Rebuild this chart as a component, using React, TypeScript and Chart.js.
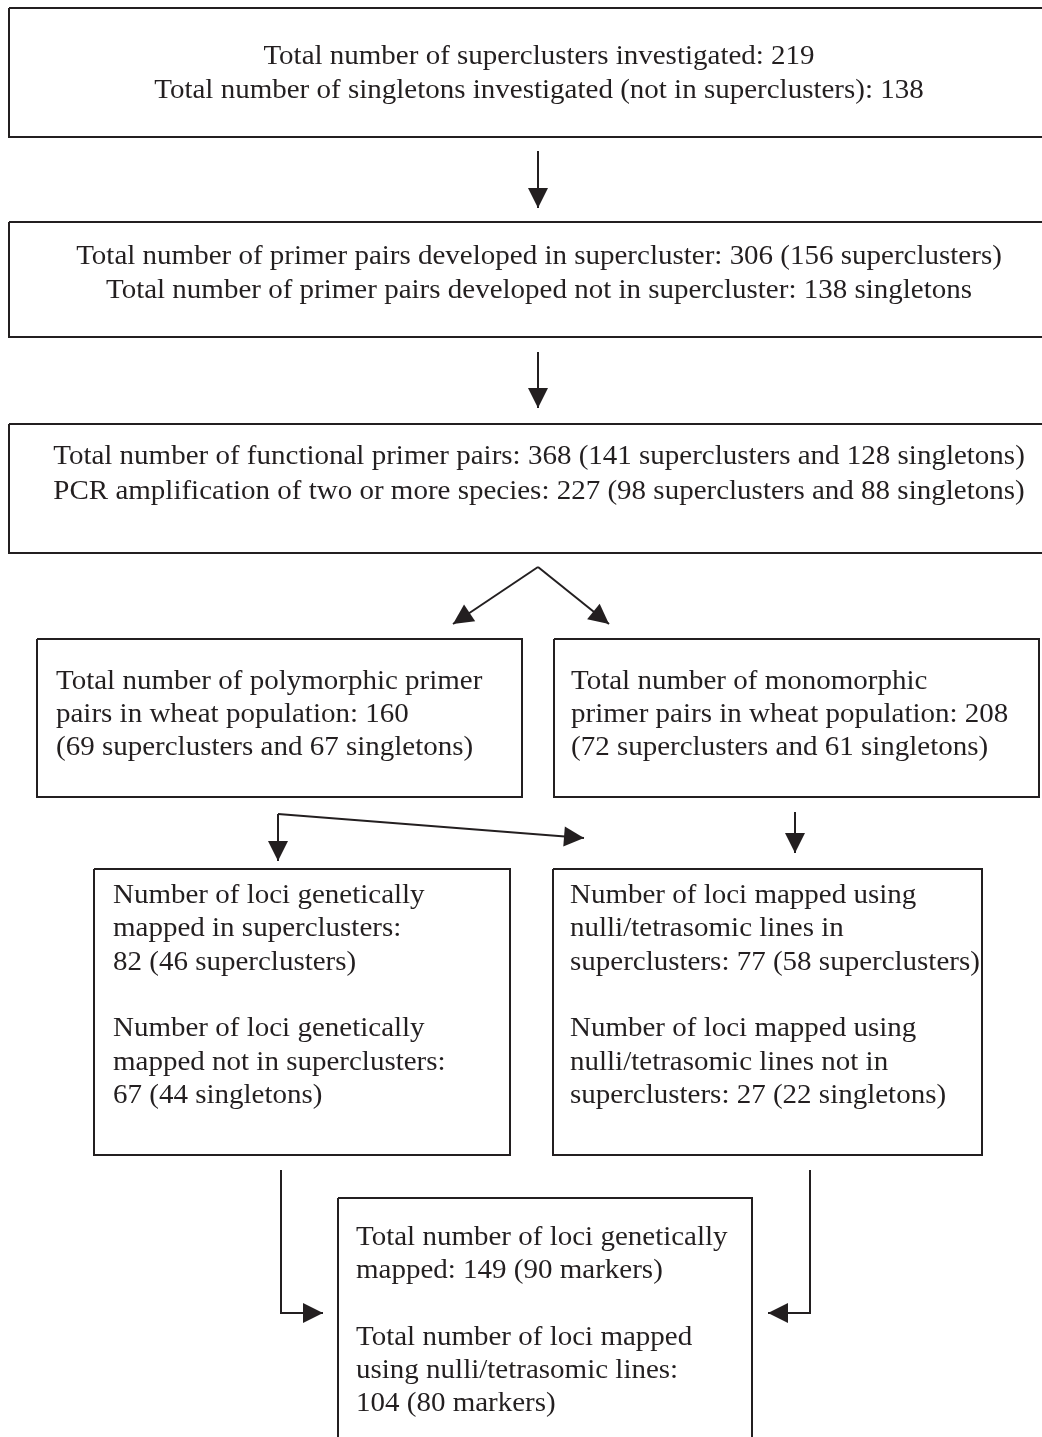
import React, { useEffect, useRef } from "react";
import { Chart, registerables } from "chart.js";

Chart.register(...registerables);

// ---- Flowchart data (page coordinates in the 1042 x 1437 frame) ----
const boxLeft = [9, 9, 9, 37, 554, 94, 553, 338];
const boxTop = [8, 222, 424, 639, 639, 869, 869, 1198];
const boxRight = [1046, 1046, 1046, 522, 1039, 510, 982, 752];
const boxBottom = [137, 337, 553, 797, 797, 1155, 1155, 1447];

const boxAlign = ["center", "center", "center", "left", "left", "left", "left", "left"];
const textX = [539, 539, 539, 56, 571, 113, 570, 356];
const textFirstY = [57, 257, 457, 682, 682, 896, 896, 1238];
const textGap = [34, 34, 35, 33, 33, 33.3, 33.3, 33.2];

const boxLines: (string | null)[][] = [
  [
    "Total number of superclusters investigated: 219",
    "Total number of singletons investigated (not in superclusters): 138",
  ],
  [
    "Total number of primer pairs developed in supercluster: 306 (156 superclusters)",
    "Total number of primer pairs developed not in supercluster: 138 singletons",
  ],
  [
    "Total number of functional primer pairs: 368 (141 superclusters and 128 singletons)",
    "PCR amplification of two or more species: 227 (98 superclusters and 88 singletons)",
  ],
  [
    "Total number of polymorphic primer",
    "pairs in wheat population: 160",
    "(69 superclusters and 67 singletons)",
  ],
  [
    "Total number of monomorphic",
    "primer pairs in wheat population: 208",
    "(72 superclusters and 61 singletons)",
  ],
  [
    "Number of loci genetically",
    "mapped in superclusters:",
    "82 (46 superclusters)",
    null,
    "Number of loci genetically",
    "mapped not in superclusters:",
    "67 (44 singletons)",
  ],
  [
    "Number of loci mapped using",
    "nulli/tetrasomic lines in",
    "superclusters: 77 (58 superclusters)",
    null,
    "Number of loci mapped using",
    "nulli/tetrasomic lines not in",
    "superclusters: 27 (22 singletons)",
  ],
  [
    "Total number of loci genetically",
    "mapped: 149 (90 markers)",
    null,
    "Total number of loci mapped",
    "using nulli/tetrasomic lines:",
    "104 (80 markers)",
  ],
];

// Connector polylines; the last point of each is an arrow tip
const arrowXs = [
  [538, 538],
  [538, 538],
  [538, 453],
  [538, 609],
  [278, 278],
  [278, 584],
  [795, 795],
  [281, 281, 323],
  [810, 810, 768],
];
const arrowYs = [
  [151, 208],
  [352, 408],
  [567, 624],
  [567, 624],
  [814, 861],
  [814, 838],
  [812, 853],
  [1170, 1313, 1313],
  [1170, 1313, 1313],
];

const INK = "#231f20";
const FONT = "27px 'Liberation Serif', 'Times New Roman', serif";
const TEXT_STRETCH = 1.074;

export default function App() {
  const ref = useRef<HTMLCanvasElement | null>(null);

  useEffect(() => {
    document.body.style.margin = "0";
    const canvas = ref.current;
    if (!canvas) return;

    const boxSets = boxLeft.map((l, i) => ({
      label: "box" + i,
      data: [
        { x: l, y: boxTop[i] },
        { x: boxRight[i], y: boxTop[i] },
        { x: boxRight[i], y: boxBottom[i] },
        { x: l, y: boxBottom[i] },
        { x: l, y: boxTop[i] },
      ],
      showLine: true,
      borderColor: INK,
      borderWidth: 2,
      pointRadius: 0,
      borderJoinStyle: "miter" as const,
      fill: false,
      tension: 0,
    }));

    const arrowSets = arrowXs.map((xs, i) => ({
      label: "arrow" + i,
      data: xs.map((x, j) => ({ x, y: arrowYs[i][j] })),
      showLine: true,
      borderColor: INK,
      borderWidth: 2,
      pointRadius: 0,
      borderJoinStyle: "miter" as const,
      fill: false,
      tension: 0,
    }));

    const decorPlugin = {
      id: "decor",
      afterDatasetsDraw(chart: any) {
        const ctx = chart.ctx as CanvasRenderingContext2D;
        const xs = chart.scales.x;
        const ys = chart.scales.y;
        ctx.save();
        // arrow heads
        ctx.fillStyle = INK;
        arrowXs.forEach((axs, i) => {
          const n = axs.length;
          const tx = xs.getPixelForValue(axs[n - 1]);
          const ty = ys.getPixelForValue(arrowYs[i][n - 1]);
          const px = xs.getPixelForValue(axs[n - 2]);
          const py = ys.getPixelForValue(arrowYs[i][n - 2]);
          const ang = Math.atan2(ty - py, tx - px);
          const len = 20;
          const half = 10;
          const bx = tx - len * Math.cos(ang);
          const by = ty - len * Math.sin(ang);
          ctx.beginPath();
          ctx.moveTo(tx, ty);
          ctx.lineTo(bx + half * Math.sin(ang), by - half * Math.cos(ang));
          ctx.lineTo(bx - half * Math.sin(ang), by + half * Math.cos(ang));
          ctx.closePath();
          ctx.fill();
        });
        // text
        ctx.font = FONT;
        ctx.textBaseline = "middle";
        boxLines.forEach((lines, i) => {
          ctx.textAlign = boxAlign[i] as CanvasTextAlign;
          const x = xs.getPixelForValue(textX[i]);
          lines.forEach((t, j) => {
            if (!t) return;
            const y = ys.getPixelForValue(textFirstY[i] + j * textGap[i]);
            ctx.save();
            ctx.translate(x, y);
            ctx.scale(TEXT_STRETCH, 1);
            ctx.fillText(t, 0, 0);
            ctx.restore();
          });
        });
        ctx.restore();
      },
    };

    const chart = new Chart(canvas, {
      type: "scatter",
      data: { datasets: [...boxSets, ...arrowSets] as any },
      options: {
        animation: false,
        responsive: false,
        events: [],
        layout: { padding: 0 },
        plugins: { legend: { display: false }, tooltip: { enabled: false } },
        scales: {
          x: { type: "linear", min: 0, max: 1042, display: false },
          y: { type: "linear", min: 0, max: 1437, reverse: true, display: false },
        },
      },
      plugins: [decorPlugin],
    });
    return () => chart.destroy();
  }, []);

  return (
    <div style={{ width: 1042, height: 1437, background: "#fff" }}>
      <canvas ref={ref} width={1042} height={1437} style={{ display: "block" }} />
    </div>
  );
}
